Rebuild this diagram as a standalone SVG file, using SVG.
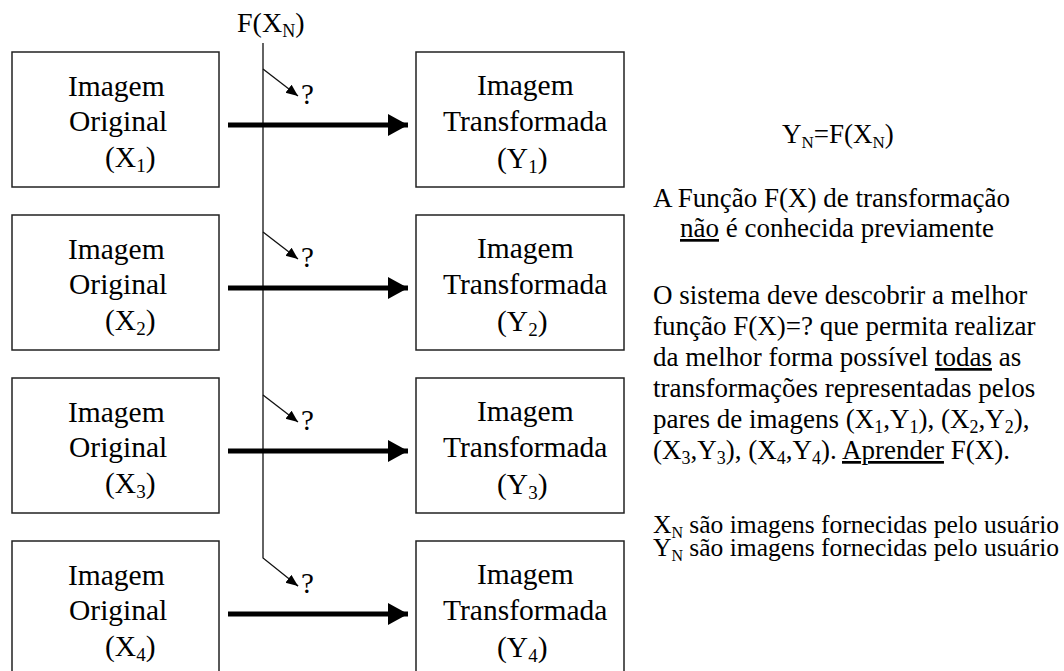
<svg xmlns="http://www.w3.org/2000/svg" width="1064" height="671" viewBox="0 0 1064 671">
<style>
text{font-family:"Liberation Serif","Times New Roman",serif;fill:#000}
.box{fill:#fff;stroke:#222;stroke-width:1.5}
.bt{font-size:29.5px}
.q{font-size:29px}
.rt{font-size:27px}
.sm{font-size:25.5px}
.thick{stroke:#000;stroke-width:5;fill:none}
.thin{stroke:#111;stroke-width:1.3;fill:none}
</style>
<defs>
<marker id="big" markerUnits="userSpaceOnUse" markerWidth="22" markerHeight="24" refX="20" refY="11" orient="auto"><path d="M0,0 L20,11 L0,22 Z" fill="#000"/></marker>
<marker id="small" markerUnits="userSpaceOnUse" markerWidth="14" markerHeight="12" refX="12" refY="5" orient="auto"><path d="M0,0 L12,5 L0,10 Z" fill="#000"/></marker>
</defs>
<g id="connectors">
<path class="thin" d="M263,43 V558 L298,586"/>
<path class="thin" d="M263,69 L298,96" marker-end="url(#small)"/>
<path class="thin" d="M263,232 L298,259" marker-end="url(#small)"/>
<path class="thin" d="M263,395 L298,422" marker-end="url(#small)"/>
<path class="thin" d="M290,580 L298,586" marker-end="url(#small)"/>
<line class="thick" x1="228" y1="125" x2="408" y2="125" marker-end="url(#big)"/>
<line class="thick" x1="228" y1="288" x2="408" y2="288" marker-end="url(#big)"/>
<line class="thick" x1="228" y1="451" x2="408" y2="451" marker-end="url(#big)"/>
<line class="thick" x1="228" y1="614" x2="408" y2="614" marker-end="url(#big)"/>
<text class="q" x="301" y="104">?</text>
<text class="q" x="301" y="267">?</text>
<text class="q" x="301" y="430">?</text>
<text class="q" x="301" y="593">?</text>
</g>
<g id="fx-label"><text x="237" y="32" style="font-size:28px">F(X<tspan dy="5" font-size="18">N</tspan><tspan dy="-5">)</tspan></text></g>
<g id="orig1"><rect class="box" x="12" y="52" width="207" height="135"/>
<text class="bt" x="68" y="96">Imagem</text><text class="bt" x="69" y="131">Original</text><text class="bt" x="105" y="167">(X<tspan dy="5" font-size="19">1</tspan><tspan dy="-5">)</tspan></text></g>
<g id="orig2"><rect class="box" x="12" y="215" width="207" height="135"/>
<text class="bt" x="68" y="259">Imagem</text><text class="bt" x="69" y="294">Original</text><text class="bt" x="105" y="330">(X<tspan dy="5" font-size="19">2</tspan><tspan dy="-5">)</tspan></text></g>
<g id="orig3"><rect class="box" x="12" y="378" width="207" height="135"/>
<text class="bt" x="68" y="422">Imagem</text><text class="bt" x="69" y="457">Original</text><text class="bt" x="105" y="493">(X<tspan dy="5" font-size="19">3</tspan><tspan dy="-5">)</tspan></text></g>
<g id="orig4"><rect class="box" x="12" y="541" width="207" height="135"/>
<text class="bt" x="68" y="585">Imagem</text><text class="bt" x="69" y="620">Original</text><text class="bt" x="105" y="656">(X<tspan dy="5" font-size="19">4</tspan><tspan dy="-5">)</tspan></text></g>
<g id="trans1"><rect class="box" x="416" y="52" width="208" height="135"/>
<text class="bt" x="477" y="95">Imagem</text><text class="bt" x="443" y="131">Transformada</text><text class="bt" x="497" y="168">(Y<tspan dy="5" font-size="19">1</tspan><tspan dy="-5">)</tspan></text></g>
<g id="trans2"><rect class="box" x="416" y="215" width="208" height="135"/>
<text class="bt" x="477" y="258">Imagem</text><text class="bt" x="443" y="294">Transformada</text><text class="bt" x="497" y="331">(Y<tspan dy="5" font-size="19">2</tspan><tspan dy="-5">)</tspan></text></g>
<g id="trans3"><rect class="box" x="416" y="378" width="208" height="135"/>
<text class="bt" x="477" y="421">Imagem</text><text class="bt" x="443" y="457">Transformada</text><text class="bt" x="497" y="494">(Y<tspan dy="5" font-size="19">3</tspan><tspan dy="-5">)</tspan></text></g>
<g id="trans4"><rect class="box" x="416" y="541" width="208" height="135"/>
<text class="bt" x="477" y="584">Imagem</text><text class="bt" x="443" y="620">Transformada</text><text class="bt" x="497" y="657">(Y<tspan dy="5" font-size="19">4</tspan><tspan dy="-5">)</tspan></text></g>
<g id="notes">
<text class="rt" x="782" y="143">Y<tspan dy="5" font-size="17">N</tspan><tspan dy="-5">=F(X</tspan><tspan dy="5" font-size="17">N</tspan><tspan dy="-5">)</tspan></text>
<text class="rt" x="653" y="207">A Função F(X) de transformação</text>
<text class="rt" x="680" y="237"><tspan text-decoration="underline">não</tspan> é conhecida previamente</text>
<text class="rt" x="653" y="304">O sistema deve descobrir a melhor</text>
<text class="rt" x="653" y="335">função F(X)=? que permita realizar</text>
<text class="rt" x="653" y="366">da melhor forma possível <tspan text-decoration="underline">todas</tspan> as</text>
<text class="rt" x="653" y="397">transformações representadas pelos</text>
<text class="rt" x="653" y="428">pares de imagens (X<tspan dy="5" font-size="18">1</tspan><tspan dy="-5">,Y</tspan><tspan dy="5" font-size="18">1</tspan><tspan dy="-5">), (X</tspan><tspan dy="5" font-size="18">2</tspan><tspan dy="-5">,Y</tspan><tspan dy="5" font-size="18">2</tspan><tspan dy="-5">),</tspan></text>
<text class="rt" x="653" y="459">(X<tspan dy="5" font-size="18">3</tspan><tspan dy="-5">,Y</tspan><tspan dy="5" font-size="18">3</tspan><tspan dy="-5">), (X</tspan><tspan dy="5" font-size="18">4</tspan><tspan dy="-5">,Y</tspan><tspan dy="5" font-size="18">4</tspan><tspan dy="-5">). </tspan><tspan text-decoration="underline">Aprender</tspan> F(X).</text>
<text class="sm" x="653" y="533">X<tspan dy="5" font-size="16">N</tspan><tspan dy="-5"> são imagens fornecidas pelo usuário</tspan></text>
<text class="sm" x="653" y="556">Y<tspan dy="5" font-size="16">N</tspan><tspan dy="-5"> são imagens fornecidas pelo usuário</tspan></text>
</g>
</svg>
